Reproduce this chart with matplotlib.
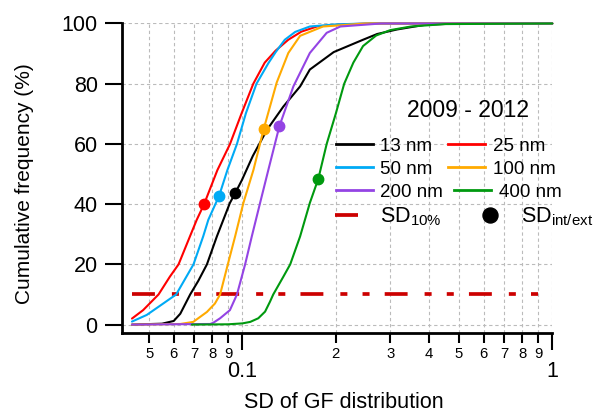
import matplotlib
matplotlib.use("Agg")
import matplotlib.pyplot as plt
from matplotlib.lines import Line2D
from matplotlib.ticker import FixedLocator, FixedFormatter

plt.rcParams['font.family'] = ['Liberation Sans', 'DejaVu Sans']
plt.rcParams['mathtext.fontset'] = 'custom'
plt.rcParams['mathtext.rm'] = 'Liberation Sans'
plt.rcParams['mathtext.it'] = 'Liberation Sans:italic'
plt.rcParams['mathtext.bf'] = 'Liberation Sans:bold'

# ---------------- data ----------------
x_13 = [0.044, 0.055, 0.060, 0.063, 0.0678, 0.072, 0.0768, 0.0827, 0.0911, 0.0947, 0.0996,
        0.108, 0.120, 0.1355, 0.1535, 0.165, 0.197, 0.245, 0.272, 0.315, 0.39, 0.5, 1.0]
y_13 = [0.0, 0.3, 1.2, 3.6, 10, 14.5, 20, 29.3, 40.4, 43.6, 48,
        56, 64.7, 72.4, 79.1, 84.7, 90.5, 94.6, 96.5, 98, 99.6, 100, 100]

x_25 = [0.044, 0.0478, 0.0536, 0.0583, 0.0622, 0.0677, 0.0712, 0.0752, 0.083, 0.0911, 0.0994,
        0.1084, 0.118, 0.128, 0.1406, 0.155, 0.174, 0.21, 0.26, 1.0]
y_25 = [2.0, 4.8, 10, 15.9, 20, 29.3, 34.8, 40, 51.3, 59.9, 70.2,
        80, 87, 91, 94.6, 97.3, 99, 99.7, 100, 100]

x_50 = [0.044, 0.0491, 0.0555, 0.0611, 0.0695, 0.0747, 0.0776, 0.0841, 0.0894, 0.096, 0.1026,
        0.111, 0.1212, 0.128, 0.137, 0.148, 0.165, 0.2, 0.25, 1.0]
y_50 = [1.0, 3.2, 7.0, 10, 20, 29.3, 34.8, 42.8, 51.3, 60, 70.2,
        80, 86.8, 90.5, 94.6, 97.2, 99.0, 99.7, 100, 100]

x_100 = [0.044, 0.063, 0.0694, 0.0768, 0.0815, 0.0847, 0.0897, 0.0947, 0.1007, 0.1086, 0.117,
         0.129, 0.1406, 0.1535, 0.182, 0.25, 1.0]
y_100 = [0.0, 0.2, 0.9, 4.2, 7.0, 10, 20, 29.3, 40.4, 51.5, 64.8,
         80.4, 90.2, 95.9, 99, 100, 100]

x_200 = [0.044, 0.0787, 0.0805, 0.0847, 0.0911, 0.096, 0.102, 0.1072, 0.114, 0.1213, 0.1316,
         0.146, 0.165, 0.187, 0.207, 0.28, 1.0]
y_200 = [0.0, 0.2, 0.6, 2.1, 4.8, 10, 20, 29.3, 40.4, 51.5, 65.9,
         79.1, 90.2, 96.9, 99, 100, 100]

x_400 = [0.0687, 0.09, 0.1, 0.106, 0.1125, 0.1183, 0.1227, 0.1257, 0.1355, 0.1426, 0.1535,
         0.165, 0.1757, 0.187, 0.2, 0.213, 0.228, 0.245, 0.27, 0.3, 0.35, 0.45, 1.0]
y_400 = [0.0, 0.1, 0.4, 0.9, 2.1, 4.3, 7.6, 10, 15.9, 20, 29.3,
         40.4, 48.4, 60, 70, 80, 87, 92.5, 96, 97.8, 99, 99.8, 100]

# SD int/ext markers (x, y) for each size
marker_x = [0.0947, 0.0752, 0.0841, 0.117, 0.1316, 0.1757]
marker_y = [43.6, 40.0, 42.8, 64.8, 65.9, 48.4]

# SD 10% level
sd10_x = [0.044, 1.0]
sd10_y = [10, 10]

series_labels = ['13 nm', '25 nm', '50 nm', '100 nm', '200 nm', '400 nm']
series_colors = ['#000000', '#FF0000', '#00AAF5', '#FFAA00', '#9444E4', '#00990F']

major_xticks = [0.1, 1.0]
major_xlabels = ['0.1', '1']
minor_xticks = [0.05, 0.06, 0.07, 0.08, 0.09, 0.2, 0.3, 0.4, 0.5, 0.6, 0.7, 0.8, 0.9]
minor_xlabels = ['5', '6', '7', '8', '9', '2', '3', '4', '5', '6', '7', '8', '9']
yticks = [0, 20, 40, 60, 80, 100]

# ---------------- figure ----------------
W, H = 598, 412
fig = plt.figure(figsize=(W / 100, H / 100), dpi=100)
ax = fig.add_axes([0.2048, 0.1917, 0.7188, 0.7513])
ax.set_xscale('log')

xs = [x_13, x_25, x_50, x_100, x_200, x_400]
ys = [y_13, y_25, y_50, y_100, y_200, y_400]

ax.plot(sd10_x, sd10_y, color='#CC0000', lw=2.66,
        dashes=(6.2, 4.6, 1.9, 4.1, 1.9, 4.1), dash_capstyle='butt', zorder=2)

for xv, yv, c in zip(xs, ys, series_colors):
    ax.plot(xv, yv, color=c, lw=1.5, zorder=3, clip_on=False,
            solid_joinstyle='round', solid_capstyle='round')
for mx, my, c in zip(marker_x, marker_y, series_colors):
    ax.plot([mx], [my], 'o', color=c, ms=7.5, zorder=4)

ax.set_xlim(0.0410, 1.0)
ax.set_ylim(-2.8, 100)

for s in ['top', 'right']:
    ax.spines[s].set_visible(False)
for s in ['left', 'bottom']:
    ax.spines[s].set_linewidth(2)

ax.xaxis.set_major_locator(FixedLocator(major_xticks))
ax.xaxis.set_major_formatter(FixedFormatter(major_xlabels))
ax.xaxis.set_minor_locator(FixedLocator(minor_xticks))
ax.xaxis.set_minor_formatter(FixedFormatter(minor_xlabels))
ax.set_yticks(yticks)
ax.set_yticklabels([str(v) for v in yticks])

ax.tick_params(axis='y', which='major', direction='out', length=12, width=1.5,
               pad=5.8, labelsize=15.5)
ax.tick_params(axis='x', which='major', direction='out', length=12, width=1.5,
               pad=8, labelsize=15.5)
ax.tick_params(axis='x', which='minor', direction='out', length=7, width=1.5,
               pad=3, labelsize=10.7)

ax.set_axisbelow(True)
ax.grid(True, axis='x', which='both', color='#BBBBBB', lw=0.8, linestyle=(0, (3, 2.5)))
ax.grid(True, axis='y', which='major', color='#BBBBBB', lw=0.8, linestyle=(0, (3, 2.5)))

ax.set_xlabel('SD of GF distribution', fontsize=15.5)
ax.xaxis.set_label_coords(0.516, -0.19)
ax.set_ylabel('Cumulative frequency (%)', fontsize=15)
ax.yaxis.set_label_coords(-0.206, 0.482)

# ---------------- manual legend (pixel positions) ----------------
def fx(px):
    return px / W

def fy(py):
    return 1 - py / H

fig.text(fx(468.3), fy(117.3), '2009 - 2012', fontsize=16.5, ha='center', va='baseline')

leg_rows = [(144, 150.7), (167.3, 174.0), (190.5, 197.0)]
left_line = (336, 372.7)
right_lines = [(448.3, 485), (448.3, 485), (454, 490.7)]
right_text_x = [493, 493, 499]
for r, (ly, ty) in enumerate(leg_rows):
    iL = 2 * r
    iR = 2 * r + 1
    fig.add_artist(Line2D([fx(left_line[0]), fx(left_line[1])], [fy(ly), fy(ly)],
                          color=series_colors[iL], lw=2))
    fig.text(fx(380), fy(ty), series_labels[iL], fontsize=13.5, ha='left', va='baseline')
    fig.add_artist(Line2D([fx(right_lines[r][0]), fx(right_lines[r][1])], [fy(ly), fy(ly)],
                          color=series_colors[iR], lw=2))
    fig.text(fx(right_text_x[r]), fy(ty), series_labels[iR], fontsize=13.5,
             ha='left', va='baseline')

fig.add_artist(Line2D([fx(335), fx(358.3)], [fy(215), fy(215)], color='#CC0000', lw=2.7,
                      solid_capstyle='butt'))
fig.text(fx(380), fy(222.7), r'SD$_{\mathregular{10\%}}$', fontsize=15.5, ha='left', va='baseline')
fig.add_artist(Line2D([fx(490)], [fy(215)], marker='o', color='black', ms=10.8, lw=0))
fig.text(fx(521), fy(222.7), r'SD$_{\mathregular{int/ext}}$', fontsize=15.5, ha='left',
         va='baseline')

fig.savefig('out.png', dpi=100)
